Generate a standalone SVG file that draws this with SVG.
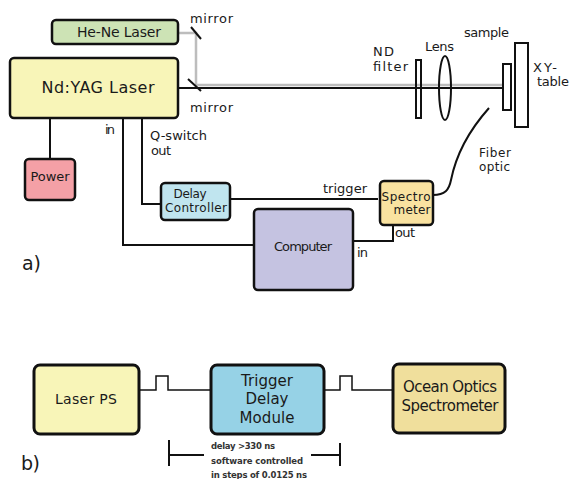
<svg xmlns="http://www.w3.org/2000/svg" width="571" height="479" viewBox="0 0 571 479">
<style>
text{font-family:"DejaVu Sans","Liberation Sans",sans-serif;fill:#1a1a1a;font-size:13px}
.c{text-anchor:middle}
.n{stroke:#111;stroke-width:2.5}
.b{stroke:#111;stroke-width:3}
.l{fill:none;stroke:#111;stroke-width:2}
.t{fill:none;stroke:#111;stroke-width:1.5}
.o{fill:none;stroke:#111;stroke-width:2}
.s{font-size:12px}
.m{font-size:15px}
.f{font-size:8.5px;font-weight:bold;fill:#333}
</style>
<rect width="571" height="479" fill="#fff"/>
<g id="connectors">
<path d="M178 33H196V85H503" fill="none" stroke="#bdbdbd" stroke-width="2.5"/>
<path class="l" d="M178 88H503"/>
<path class="l" d="M50 118V159"/>
<path class="l" d="M123 118V245H254"/>
<path class="l" d="M142 118V204H161"/>
<path class="l" d="M230 199H378"/>
<path class="l" d="M353 241H393V225"/>
<path class="l" d="M433 195C445 195 449 190 451 180C455 160 465 135 489 108"/>
<path class="l" d="M191 27L201 39"/>
<path class="l" d="M188 79L201 91"/>
<path class="t" d="M139 390H156V376H168V390H211"/>
<path class="t" d="M324 390H340V376H352V390H393"/>
<path class="l" d="M169 440V466M169 455H204M311 455H340M340 443V466"/>
</g>
<g id="he-ne"><rect class="n" x="52" y="20" width="126" height="24" rx="4" fill="#cde3b5"/><text x="119" y="37" class="c" style="font-size:14px" textLength="84">He-Ne Laser</text></g>
<g id="ndyag"><rect class="n" x="10" y="58" width="168" height="60" rx="4" fill="#f8f5b8"/><text x="98" y="93" class="c" style="font-size:16px" textLength="113">Nd:YAG Laser</text></g>
<g id="power"><rect class="n" x="25" y="159" width="50" height="41" rx="4" fill="#f4a0a6"/><text x="50" y="181" class="c" textLength="39">Power</text></g>
<g id="delay"><rect class="n" x="161" y="183" width="69" height="37" rx="4" fill="#c0e5ef"/><text x="190" y="198" class="c s" textLength="33">Delay</text><text x="196" y="212" class="c s" textLength="62">Controller</text></g>
<g id="computer"><rect class="n" x="254" y="209" width="99" height="81" rx="4" fill="#c5c3e1"/><text x="303" y="251" class="c" textLength="58">Computer</text></g>
<g id="spectrometer"><rect class="n" x="380" y="181" width="53" height="44" rx="4" fill="#f9e2a0"/><text x="406" y="201" class="c s" textLength="49">Spectro</text><text x="412" y="214" class="c s" textLength="37">meter</text></g>
<g id="nd-filter"><rect class="o" x="416" y="60" width="5" height="58"/></g>
<g id="lens"><ellipse class="l" cx="445" cy="88" rx="6" ry="32"/></g>
<g id="sample"><rect class="o" x="503" y="64" width="8" height="46"/></g>
<g id="xy-table"><rect class="o" x="515" y="43" width="13" height="84"/></g>
<g id="laser-ps"><rect class="b" x="34" y="365" width="105" height="69" rx="6" fill="#f8f5b8"/><text x="86" y="404" class="c" style="font-size:14px" textLength="62">Laser PS</text></g>
<g id="trigger"><rect class="b" x="211" y="365" width="113" height="69" rx="6" fill="#96d2e6"/><text x="267" y="386" class="c m" textLength="52">Trigger</text><text x="267" y="404" class="c m" textLength="43">Delay</text><text x="267" y="423" class="c m" textLength="55">Module</text></g>
<g id="ocean"><rect class="b" x="393" y="364" width="112" height="69" rx="6" fill="#f0df9c"/><text x="450" y="392" class="c m" textLength="94">Ocean Optics</text><text x="450" y="411" class="c m" textLength="97">Spectrometer</text></g>
<g id="labels">
<text x="190" y="23" textLength="43">mirror</text>
<text x="190" y="112" textLength="43">mirror</text>
<text x="105" y="134" textLength="10">in</text>
<text x="150" y="140" textLength="57">Q-switch</text>
<text x="151" y="155" textLength="20">out</text>
<text x="323" y="193" textLength="44">trigger</text>
<text x="395" y="237" textLength="20">out</text>
<text x="357" y="257" textLength="11">in</text>
<text x="373" y="56" textLength="21">ND</text>
<text x="373" y="71" textLength="35">filter</text>
<text x="425" y="51" textLength="29">Lens</text>
<text x="464" y="37" textLength="45">sample</text>
<text x="533" y="72" textLength="24">XY-</text>
<text x="537" y="86" textLength="32">table</text>
<text x="479" y="157" class="s" textLength="32">Fiber</text>
<text x="479" y="171" class="s" textLength="31">optic</text>
<text x="22" y="270" style="font-size:19px" textLength="19">a)</text>
<text x="21" y="470" style="font-size:19px" textLength="19">b)</text>
<text x="211" y="449" class="f" textLength="64">delay &gt;330 ns</text>
<text x="211" y="464" class="f" textLength="92">software controlled</text>
<text x="211" y="478" class="f" textLength="96">in steps of 0.0125 ns</text>
</g>
</svg>
